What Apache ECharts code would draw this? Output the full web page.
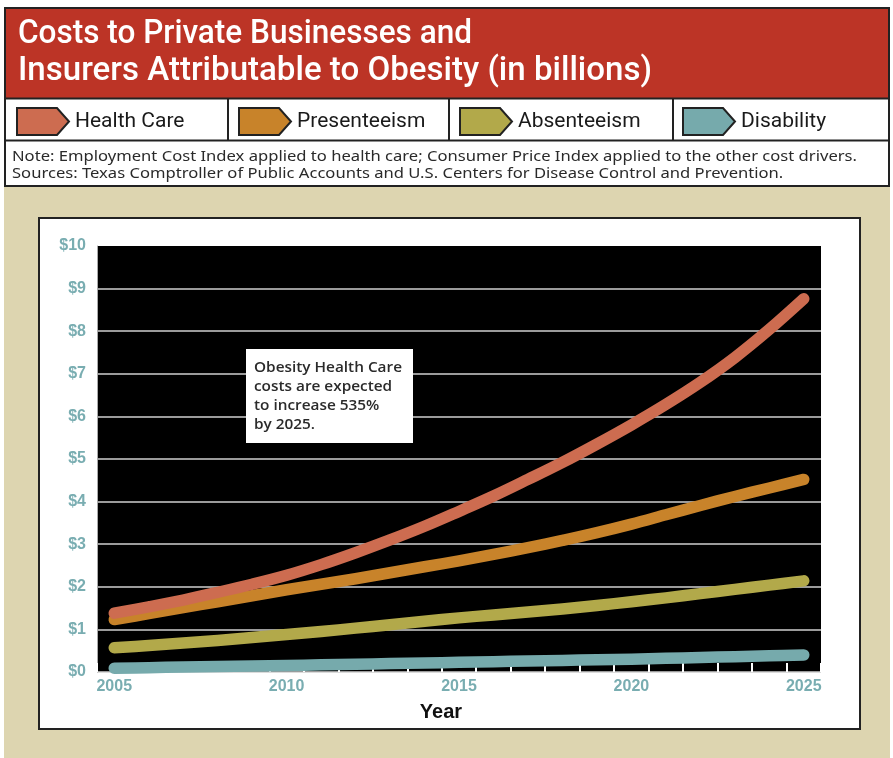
<!DOCTYPE html>
<html>
<head>
<meta charset="utf-8">
<script src="https://cdn.jsdelivr.net/npm/echarts@6/dist/echarts.min.js"></script>
<style>
  html, body { margin: 0; padding: 0; background: #ffffff; }
  #chart { width: 893px; height: 758px; }
</style>
</head>
<body>
<div id="chart"></div>
<script>
// Yearly cost estimates, billions of dollars
const years = ['2005','2006','2007','2008','2009','2010','2011','2012','2013','2014','2015',
               '2016','2017','2018','2019','2020','2021','2022','2023','2024','2025'];
const healthCare   = [1.38,1.53,1.69,1.87,2.06,2.27,2.52,2.80,3.10,3.42,3.77,4.13,4.52,4.92,5.35,5.80,6.28,6.80,7.38,8.04,8.76];
const presenteeism = [1.23,1.37,1.51,1.65,1.79,1.93,2.06,2.19,2.33,2.47,2.61,2.76,2.92,3.09,3.27,3.47,3.69,3.91,4.12,4.32,4.52];
const absenteeism  = [0.57,0.62,0.68,0.74,0.81,0.88,0.95,1.03,1.11,1.19,1.27,1.34,1.41,1.48,1.56,1.65,1.74,1.84,1.94,2.04,2.14];
const disability   = [0.09,0.10,0.12,0.13,0.14,0.15,0.17,0.18,0.20,0.21,0.23,0.24,0.26,0.27,0.29,0.30,0.32,0.34,0.36,0.38,0.40];

const seriesNames  = ['Health Care', 'Presenteeism', 'Absenteeism', 'Disability'];
const seriesData   = [healthCare, presenteeism, absenteeism, disability];
const seriesColors = ['#CD6C50', '#C8832A', '#B2A94A', '#76AAAC'];

const titleLines   = ['Costs to Private Businesses and', 'Insurers Attributable to Obesity (in billions)'];
const noteLines    = ['Note: Employment Cost Index applied to health care; Consumer Price Index applied to the other cost drivers.',
                      'Sources: Texas Comptroller of Public Accounts and U.S. Centers for Disease Control and Prevention.'];
const calloutLines = ['Obesity Health Care', 'costs are expected', 'to increase 535%', 'by 2025.'];

// Horizontal squeeze so a line of text spans a given width
const measureCtx = document.createElement('canvas').getContext('2d');
function fitScale(text, font, width) {
  measureCtx.font = font;
  return width / measureCtx.measureText(text).width;
}

function textEl(x, y, text, font, fill, scaleX, align, z) {
  return {
    type: 'text', x: x, y: y, scaleX: scaleX || 1, z: z || 10, silent: true,
    style: { text: text, font: font, fill: fill,
             textAlign: align || 'left', align: align || 'left',
             textVerticalAlign: 'middle', verticalAlign: 'middle' }
  };
}

const axisTeal = '#79ADB1';
const titleFont = '500 33px Roboto';
const noteFont = '15px "Noto Sans"';
const noteScale = fitScale(noteLines[0], noteFont, 845);
const calloutFont = '600 14px "Open Sans"';
const calloutScale = fitScale(calloutLines[0], calloutFont, 148);

const legendLefts = [16, 238, 459, 682];
const arrowIcon = 'path://M0,0 L40,0 L52,13.5 L40,27 L0,27 Z';

const graphics = [
  // page backdrop below the header
  { type: 'rect', z: -100, silent: true, shape: { x: 4, y: 187, width: 886, height: 571 }, style: { fill: '#DDD5B0' } },
  // white chart card
  { type: 'rect', z: -90, silent: true, shape: { x: 39, y: 218, width: 821, height: 511 }, style: { fill: '#ffffff', stroke: '#222222', lineWidth: 2 } },
  // header band
  { type: 'rect', z: 1, silent: true, shape: { x: 5, y: 8, width: 884, height: 90 }, style: { fill: '#BC3426' } },
  { type: 'rect', z: 1, silent: true, shape: { x: 5, y: 98, width: 884, height: 88 }, style: { fill: '#ffffff' } },
  { type: 'rect', z: 2, silent: true, shape: { x: 5, y: 8, width: 884, height: 178 }, style: { fill: 'none', stroke: '#222222', lineWidth: 2 } },
  { type: 'line', z: 2, silent: true, shape: { x1: 5, y1: 98.5, x2: 889, y2: 98.5 }, style: { stroke: '#222222', lineWidth: 2 } },
  { type: 'line', z: 2, silent: true, shape: { x1: 5, y1: 140.5, x2: 889, y2: 140.5 }, style: { stroke: '#222222', lineWidth: 2 } },
  { type: 'line', z: 2, silent: true, shape: { x1: 228, y1: 98, x2: 228, y2: 140 }, style: { stroke: '#222222', lineWidth: 2 } },
  { type: 'line', z: 2, silent: true, shape: { x1: 449, y1: 98, x2: 449, y2: 140 }, style: { stroke: '#222222', lineWidth: 2 } },
  { type: 'line', z: 2, silent: true, shape: { x1: 673, y1: 98, x2: 673, y2: 140 }, style: { stroke: '#222222', lineWidth: 2 } },
  textEl(18, 35, titleLines[0], titleFont, '#ffffff', fitScale(titleLines[0], titleFont, 454)),
  textEl(18, 72, titleLines[1], titleFont, '#ffffff', fitScale(titleLines[1], titleFont, 634)),
  textEl(12, 157, noteLines[0], noteFont, '#2a2a2a', noteScale),
  textEl(12, 173.5, noteLines[1], noteFont, '#2a2a2a', noteScale),
  // callout
  { type: 'rect', z: 20, silent: true, shape: { x: 246, y: 349, width: 167, height: 94 }, style: { fill: '#ffffff' } },
  textEl(254, 368.5, calloutLines[0], calloutFont, '#2b2b2b', calloutScale, 'left', 21),
  textEl(254, 387.5, calloutLines[1], calloutFont, '#2b2b2b', calloutScale, 'left', 21),
  textEl(254, 406, calloutLines[2], calloutFont, '#2b2b2b', calloutScale, 'left', 21),
  textEl(254, 425.5, calloutLines[3], calloutFont, '#2b2b2b', calloutScale, 'left', 21),
  // x axis title
  textEl(441, 712, 'Year', 'bold 20px "Liberation Sans"', '#111111', 1, 'center')
];

const chart = echarts.init(document.getElementById('chart'), null, { renderer: 'canvas' });

chart.setOption({
  animation: false,
  backgroundColor: '#ffffff',
  graphic: { elements: graphics },
  legend: seriesNames.map((name, i) => ({
    data: [name],
    left: legendLefts[i],
    top: 107,
    padding: 0,
    selectedMode: false,
    icon: arrowIcon,
    itemWidth: 52,
    itemHeight: 27,
    itemGap: 6,
    itemStyle: { borderColor: '#222222', borderWidth: 2 },
    textStyle: { fontFamily: 'Roboto', fontSize: 21, color: '#1a1a1a', padding: [2, 0, 0, 1] },
    z: 5
  })),
  grid: {
    left: 97, right: 72, top: 246, bottom: 86,
    show: true, backgroundColor: '#000000', borderWidth: 0
  },
  xAxis: {
    type: 'category',
    data: years,
    boundaryGap: true,
    axisLine: { show: false },
    axisTick: { show: true, inside: true, length: 9, interval: 0, lineStyle: { color: '#ffffff', width: 2 } },
    axisLabel: { interval: 4, color: axisTeal, fontFamily: 'Liberation Sans', fontWeight: 'bold', fontSize: 16, margin: 7 },
    splitLine: { show: false }
  },
  yAxis: {
    type: 'value',
    min: 0, max: 10, interval: 1,
    axisLine: { show: true, lineStyle: { color: '#aaaaaa', width: 1 } },
    axisTick: { show: false },
    axisLabel: {
      formatter: v => '$' + v,
      color: axisTeal, fontFamily: 'Liberation Sans', fontWeight: 'bold', fontSize: 16,
      margin: 11, padding: [0, 0, 6, 0]
    },
    splitLine: { show: true, showMaxLine: false, lineStyle: { color: '#cfcfcf', width: 1.5 } }
  },
  series: [3, 2, 1, 0].map(i => ({
    type: 'line',
    name: seriesNames[i],
    data: seriesData[i],
    smooth: 0.35,
    symbol: 'none',
    showSymbol: false,
    silent: true,
    color: seriesColors[i],
    itemStyle: { color: seriesColors[i] },
    lineStyle: { color: seriesColors[i], width: 11.5, cap: 'round', join: 'round' },
    emphasis: { disabled: true },
    z: 3 + (3 - i)
  }))
});
</script>
</body>
</html>
